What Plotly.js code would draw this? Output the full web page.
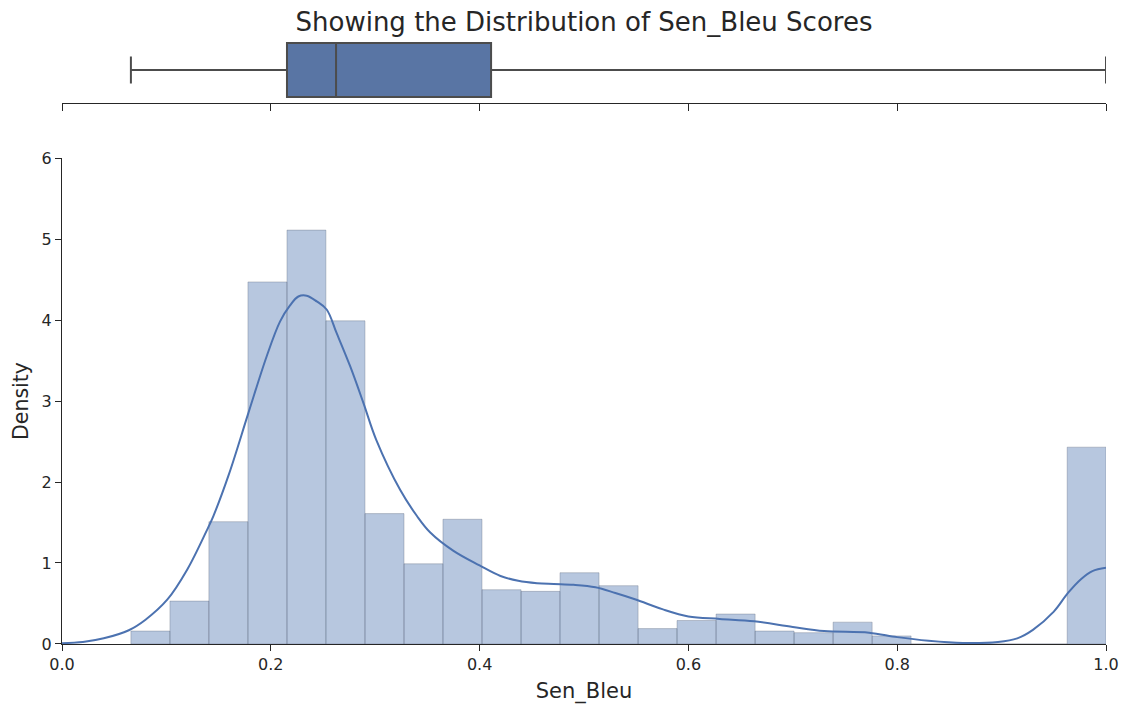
<!DOCTYPE html>
<html>
<head>
<meta charset="utf-8">
<script src="https://cdn.plot.ly/plotly-3.0.1.min.js"></script>
<style>html,body{margin:0;padding:0;background:#fff;}#chart{width:1126px;height:705px;}</style>
</head>
<body>
<div id="chart"></div>
<script>
// Histogram bin edges (Sen_Bleu) and density per bin
const binEdges = [0.066, 0.1034, 0.1407, 0.1781, 0.2155, 0.2528, 0.2902, 0.3276, 0.3649, 0.4023,
  0.4397, 0.4770, 0.5144, 0.5518, 0.5891, 0.6265, 0.6639, 0.7012, 0.7386, 0.7760,
  0.8133, 0.8507, 0.8881, 0.9254, 0.9628, 1.0];
const binDensity = [0.16, 0.53, 1.51, 4.47, 5.11, 3.99, 1.61, 0.99, 1.54, 0.67,
  0.65, 0.88, 0.72, 0.19, 0.29, 0.37, 0.16, 0.14, 0.27, 0.10,
  0, 0, 0, 0, 2.43];

// KDE curve
const kdeX = [0.0, 0.02, 0.04, 0.064, 0.08, 0.101, 0.12, 0.1386, 0.145, 0.16, 0.1785, 0.196, 0.2088, 0.2184,
  0.2264, 0.2344, 0.244, 0.2535, 0.263, 0.276, 0.2886, 0.301, 0.324, 0.34, 0.3525, 0.375, 0.40, 0.42,
  0.437, 0.455, 0.471, 0.49, 0.511, 0.53, 0.5495, 0.575, 0.60, 0.63, 0.663, 0.70, 0.73, 0.773, 0.80,
  0.83, 0.863, 0.8966, 0.915, 0.93, 0.95, 0.9636, 0.976, 0.987, 1.0];
const kdeY = [0.01, 0.025, 0.07, 0.17, 0.30, 0.55, 0.92, 1.40, 1.58, 2.10, 2.85, 3.55, 3.98, 4.18,
  4.29, 4.30, 4.23, 4.13, 3.84, 3.43, 2.98, 2.52, 1.90, 1.58, 1.38, 1.15, 0.97, 0.84,
  0.78, 0.75, 0.74, 0.73, 0.70, 0.63, 0.55, 0.43, 0.34, 0.31, 0.28, 0.21, 0.16, 0.14, 0.085,
  0.04, 0.012, 0.025, 0.07, 0.175, 0.40, 0.63, 0.80, 0.90, 0.94];

// Box plot summary
const boxLower = 0.066, boxQ1 = 0.2155, boxMedian = 0.2625, boxQ3 = 0.411, boxUpper = 1.0;

const titleText = 'Showing the Distribution of Sen_Bleu Scores';
const xLabel = 'Sen_Bleu';
const yLabel = 'Density';

const binCenters = [], binWidths = [];
for (let i = 0; i < binDensity.length; i++) {
  binCenters.push((binEdges[i] + binEdges[i + 1]) / 2);
  binWidths.push(binEdges[i + 1] - binEdges[i]);
}

const textColor = '#262626';
const font = {family: 'DejaVu Sans, sans-serif', color: textColor};

const traces = [
  {
    type: 'bar', x: binCenters, y: binDensity, width: binWidths,
    marker: {color: 'rgba(76,114,176,0.4)', line: {color: 'rgba(80,90,110,0.3)', width: 1}},
    xaxis: 'x', yaxis: 'y', hoverinfo: 'skip', showlegend: false
  },
  {
    type: 'scatter', mode: 'lines', x: kdeX, y: kdeY,
    line: {color: '#4C72B0', width: 2, shape: 'spline', smoothing: 1},
    xaxis: 'x', yaxis: 'y', showlegend: false
  },
  {
    type: 'box', orientation: 'h', y: [0],
    q1: [boxQ1], median: [boxMedian], q3: [boxQ3], lowerfence: [boxLower], upperfence: [boxUpper],
    width: 1, whiskerwidth: 0.5,
    fillcolor: '#5975A4', line: {color: '#4c4c4c', width: 2},
    xaxis: 'x2', yaxis: 'y2', showlegend: false, boxpoints: false
  }
];

const layout = {
  width: 1126, height: 705,
  margin: {l: 62, r: 20, t: 30, b: 61},
  paper_bgcolor: '#fff', plot_bgcolor: '#fff',
  font: font,
  title: {text: titleText, font: {family: font.family, size: 26, color: textColor},
    x: 0.5, xref: 'paper', y: 1 - 22 / 705, yref: 'container', yanchor: 'middle'},
  bargap: 0,
  xaxis: {
    domain: [0, 1], range: [0, 1], anchor: 'y',
    tickvals: [0, 0.2, 0.4, 0.6, 0.8, 1.0], tickformat: '.1f',
    ticks: 'outside', ticklen: 6, tickwidth: 1, tickcolor: textColor,
    showline: true, linecolor: textColor, linewidth: 1.2,
    showgrid: false, zeroline: false,
    tickfont: {size: 16, color: textColor},
    title: {text: xLabel, font: {size: 21, color: textColor}, standoff: 9}
  },
  yaxis: {
    domain: [0, 0.7915], range: [0, 6], anchor: 'x',
    tickvals: [0, 1, 2, 3, 4, 5, 6],
    ticks: 'outside', ticklen: 6, tickwidth: 1, tickcolor: textColor,
    showline: true, linecolor: textColor, linewidth: 1.2,
    showgrid: false, zeroline: false,
    tickfont: {size: 16, color: textColor},
    title: {text: yLabel, font: {size: 20.5, color: textColor}, standoff: 7}
  },
  xaxis2: {
    domain: [0, 1], range: [0, 1], anchor: 'y2',
    tickvals: [0, 0.2, 0.4, 0.6, 0.8, 1.0], showticklabels: false,
    ticks: 'outside', ticklen: 7, tickwidth: 1, tickcolor: textColor,
    showline: true, linecolor: textColor, linewidth: 1.2,
    showgrid: false, zeroline: false
  },
  yaxis2: {
    domain: [0.881, 1.0], range: [-0.611, 0.741], anchor: 'x2',
    showticklabels: false, ticks: '', showline: false, showgrid: false, zeroline: false
  }
};

Plotly.newPlot('chart', traces, layout, {displayModeBar: false, staticPlot: true});
</script>
</body>
</html>
